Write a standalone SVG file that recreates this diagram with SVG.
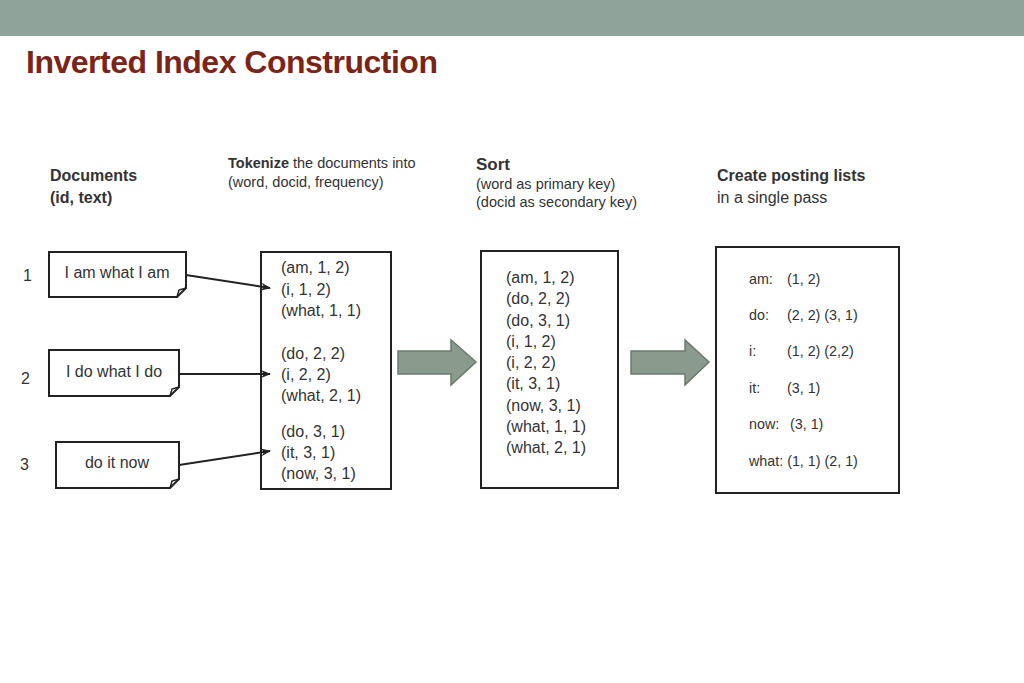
<svg xmlns="http://www.w3.org/2000/svg" width="1024" height="683" viewBox="0 0 1024 683">
<style>
text{font-family:"Liberation Sans",Arial,sans-serif;fill:#333}
.t{font-size:16px}
.h{font-size:16px;font-weight:bold}
.s{font-size:14.5px}
.p{font-size:14.3px}
.box{fill:#fff;stroke:#222;stroke-width:2}
.con{stroke:#222;stroke-width:2;fill:none;marker-end:url(#ah)}
.big{fill:#8a9a8d;stroke:#6b7a6e;stroke-width:1.5}
</style>
<defs>
<marker id="ah" markerWidth="10" markerHeight="10" refX="9" refY="5" orient="auto" markerUnits="userSpaceOnUse"><path d="M0,1 L10,5 L0,9 L3,5 Z" fill="#222"/></marker>
</defs>
<rect width="1024" height="683" fill="#fff"/>
<rect width="1024" height="36" fill="#8fa39a"/>
<text x="26" y="73" style="font-size:32px;font-weight:bold;fill:#7b2418;letter-spacing:-0.5px">Inverted Index Construction</text>
<g id="headers">
<text class="h" x="50" y="181">Documents</text>
<text class="h" x="50" y="203">(id, text)</text>
<text class="s" x="228" y="168"><tspan font-weight="bold">Tokenize</tspan> the documents into</text>
<text class="s" x="228" y="187">(word, docid, frequency)</text>
<text class="h" x="476" y="170" style="font-size:17px">Sort</text>
<text class="s" x="476" y="189">(word as primary key)</text>
<text class="s" x="476" y="207">(docid as secondary key)</text>
<text class="h" x="717" y="181">Create posting lists</text>
<text class="t" x="717" y="203">in a single pass</text>
</g>
<g id="ids" class="t">
<text class="t" x="23" y="281">1</text>
<text class="t" x="21" y="384">2</text>
<text class="t" x="20" y="470">3</text>
</g>
<g id="doc1"><path class="box" d="M49,252 H186 V288 L177,297 H49 Z"/><path d="M177,297 L179,290 L186,288" fill="none" stroke="#222" stroke-width="1.5"/><text class="t" x="117" y="278" text-anchor="middle">I am what I am</text></g>
<g id="doc2"><path class="box" d="M49,350 H179 V387 L170,396 H49 Z"/><path d="M170,396 L172,389 L179,387" fill="none" stroke="#222" stroke-width="1.5"/><text class="t" x="114" y="377" text-anchor="middle">I do what I do</text></g>
<g id="doc3"><path class="box" d="M56,442 H179 V479 L170,488 H56 Z"/><path d="M170,488 L172,481 L179,479" fill="none" stroke="#222" stroke-width="1.5"/><text class="t" x="117" y="468" text-anchor="middle">do it now</text></g>
<g id="tokens"><rect class="box" x="261" y="252" width="130" height="237"/>
<text class="t" x="281" y="273">(am, 1, 2)</text><text class="t" x="281" y="295">(i, 1, 2)</text><text class="t" x="281" y="316">(what, 1, 1)</text>
<text class="t" x="281" y="359">(do, 2, 2)</text><text class="t" x="281" y="380">(i, 2, 2)</text><text class="t" x="281" y="401">(what, 2, 1)</text>
<text class="t" x="281" y="437">(do, 3, 1)</text><text class="t" x="281" y="458">(it, 3, 1)</text><text class="t" x="281" y="479">(now, 3, 1)</text></g>
<g id="sorted"><rect class="box" x="481" y="251" width="137" height="237"/>
<text class="t" x="506" y="283">(am, 1, 2)</text><text class="t" x="506" y="304">(do, 2, 2)</text><text class="t" x="506" y="326">(do, 3, 1)</text><text class="t" x="506" y="347">(i, 1, 2)</text><text class="t" x="506" y="368">(i, 2, 2)</text><text class="t" x="506" y="389">(it, 3, 1)</text><text class="t" x="506" y="411">(now, 3, 1)</text><text class="t" x="506" y="432">(what, 1, 1)</text><text class="t" x="506" y="453">(what, 2, 1)</text></g>
<g id="postings"><rect class="box" x="716" y="247" width="183" height="246"/>
<text class="p" x="749" y="284">am:</text><text class="p" x="787" y="284">(1, 2)</text>
<text class="p" x="749" y="320">do:</text><text class="p" x="787" y="320">(2, 2) (3, 1)</text>
<text class="p" x="749" y="356">i:</text><text class="p" x="787" y="356">(1, 2) (2,2)</text>
<text class="p" x="749" y="393">it:</text><text class="p" x="787" y="393">(3, 1)</text>
<text class="p" x="749" y="429">now:</text><text class="p" x="790" y="429">(3, 1)</text>
<text class="p" x="749" y="466">what: (1, 1) (2, 1)</text></g>
<g id="connectors">
<path class="con" d="M186,275 L270,288"/>
<path class="con" d="M179,374 L270,374"/>
<path class="con" d="M179,465 L270,451"/>
<path class="big" d="M398,351 H451 V340 L476,362 L451,385 V374 H398 Z"/>
<path class="big" d="M631,351 H685 V340 L709,362 L685,385 V374 H631 Z"/>
</g>
</svg>
